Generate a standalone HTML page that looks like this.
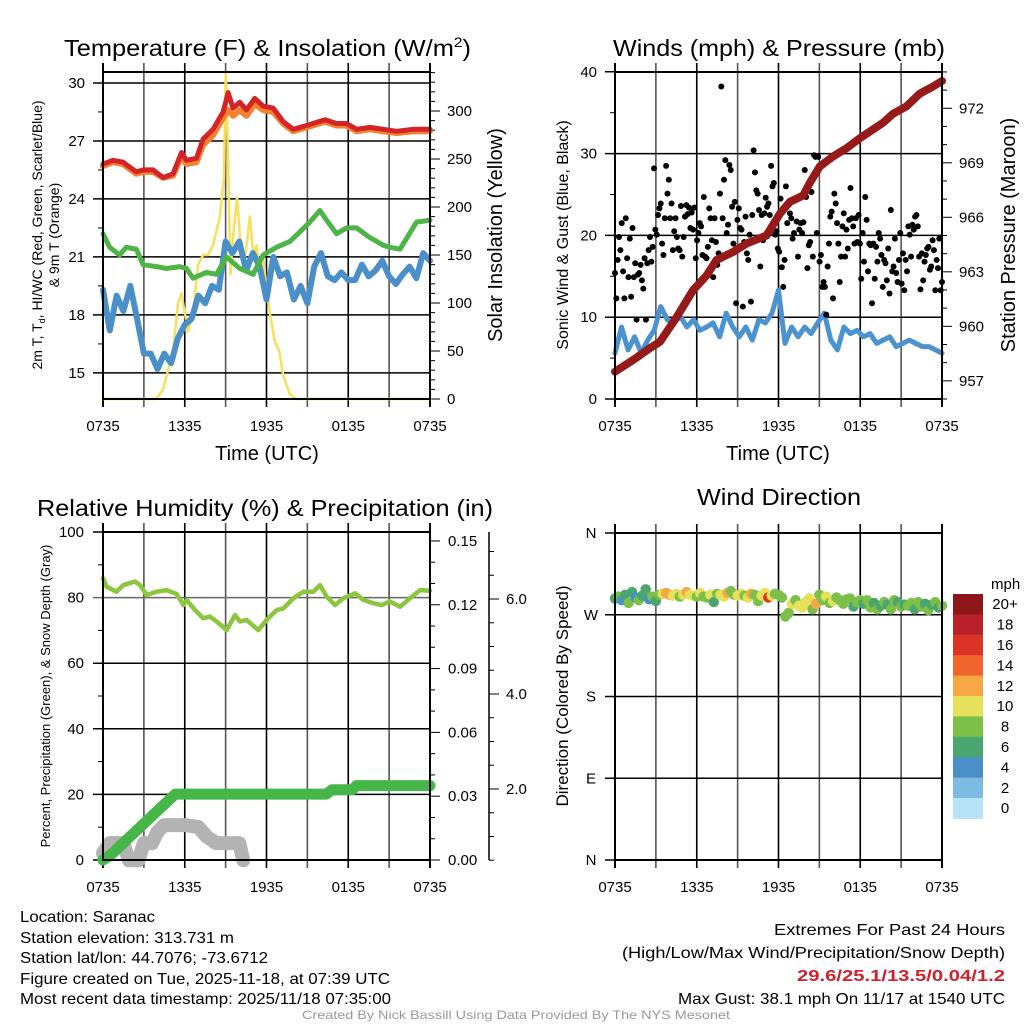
<!DOCTYPE html>
<html><head><meta charset="utf-8"><title>Saranac Meteogram</title>
<style>html,body{margin:0;padding:0;background:#fff}svg{display:block;font-family:"Liberation Sans",Arial,sans-serif}</style></head>
<body>
<svg id="fig" width="1024" height="1024" viewBox="0 0 1024 1024" xmlns="http://www.w3.org/2000/svg">
<rect width="1024" height="1024" fill="#fff"/>
<text x="64" y="56" font-size="23" textLength="407" lengthAdjust="spacingAndGlyphs">Temperature (F) &amp; Insolation (W/m<tspan font-size="14" dy="-9">2</tspan><tspan dy="9">)</tspan></text>
<text x="613" y="56" font-size="23" textLength="332" lengthAdjust="spacingAndGlyphs">Winds (mph) &amp; Pressure (mb)</text>
<text x="37" y="516" font-size="23" textLength="456" lengthAdjust="spacingAndGlyphs">Relative Humidity (%) &amp; Precipitation (in)</text>
<text x="697" y="505" font-size="23" textLength="164" lengthAdjust="spacingAndGlyphs">Wind Direction</text>
<g id="p1"></g>
<g id="p2"></g>
<g id="p3"></g>
<g id="p4"></g>
<text transform="translate(42,235) rotate(-90)" text-anchor="middle" font-size="14">2m T, T<tspan font-size="9" dy="3">d</tspan><tspan dy="-3">, HI/WC (Red, Green, Scarlet/Blue)</tspan></text>
<text transform="translate(59,235) rotate(-90)" text-anchor="middle" font-size="14">&amp; 9m T (Orange)</text>
<text transform="translate(502,235) rotate(-90)" text-anchor="middle" font-size="20">Solar Insolation (Yellow)</text>
<text x="267" y="460" text-anchor="middle" font-size="20">Time (UTC)</text>
<text transform="translate(568,235) rotate(-90)" text-anchor="middle" font-size="16">Sonic Wind &amp; Gust (Blue, Black)</text>
<text transform="translate(1015,235) rotate(-90)" text-anchor="middle" font-size="20">Station Pressure (Maroon)</text>
<text x="778" y="460" text-anchor="middle" font-size="20">Time (UTC)</text>
<text transform="translate(50,696) rotate(-90)" text-anchor="middle" font-size="13">Percent, Precipitation (Green), &amp; Snow Depth (Gray)</text>
<text transform="translate(568,696) rotate(-90)" text-anchor="middle" font-size="17">Direction (Colored By Speed)</text>
<g font-size="16">
<text x="20" y="922" textLength="135" lengthAdjust="spacingAndGlyphs">Location: Saranac</text>
<text x="20" y="943" textLength="214" lengthAdjust="spacingAndGlyphs">Station elevation: 313.731 m</text>
<text x="20" y="963" textLength="248" lengthAdjust="spacingAndGlyphs">Station lat/lon: 44.7076; -73.6712</text>
<text x="20" y="984" textLength="370" lengthAdjust="spacingAndGlyphs">Figure created on Tue, 2025-11-18, at 07:39 UTC</text>
<text x="20" y="1004" textLength="371" lengthAdjust="spacingAndGlyphs">Most recent data timestamp: 2025/11/18 07:35:00</text>
</g>
<g font-size="16">
<text x="774" y="935" textLength="231" lengthAdjust="spacingAndGlyphs">Extremes For Past 24 Hours</text>
<text x="622" y="958" textLength="383" lengthAdjust="spacingAndGlyphs">(High/Low/Max Wind/Precipitation/Snow Depth)</text>
<text x="797" y="981" font-weight="bold" fill="#d0202a" textLength="208" lengthAdjust="spacingAndGlyphs">29.6/25.1/13.5/0.04/1.2</text>
<text x="678" y="1004" textLength="327" lengthAdjust="spacingAndGlyphs">Max Gust: 38.1 mph On 11/17 at 1540 UTC</text>
</g>
<text x="302" y="1019" font-size="12" fill="#999" textLength="428" lengthAdjust="spacingAndGlyphs">Created By Nick Bassill Using Data Provided By The NYS Mesonet</text>
</svg>
<script>
// ---------- data ----------
const timeTickLabels = ['0735','1335','1935','0135','0735'];
const tempTicks = [15,18,21,24,27,30];
const solarTicks = [0,50,100,150,200,250,300];
const windTicks = [0,10,20,30,40];
const pressTicks = [957,960,963,966,969,972];
const rhTicks = [0,20,40,60,80,100];
const precipTicks = [0.00,0.03,0.06,0.09,0.12,0.15];
const snowTicks = [2.0,4.0,6.0];
const dirTicks = ['N','E','S','W','N'];
const speedLabels = ['0','2','4','6','8','10','12','14','16','18','20+'];
const speedColors = ['#b6e3f7','#7ebbe2','#4a8fc8','#4aa56e','#7cc04a','#e6e05a','#f5a843','#f0652e','#dc3328','#b8202a','#8e1519'];

const redHours = [0,0.73,1.47,2.45,2.94,3.67,4.41,5.14,5.76,6.12,6.86,7.35,8.08,8.82,9.18,9.55,10.04,10.53,11.14,11.76,12.49,13.22,13.96,14.94,16.29,17.14,17.88,18.61,19.59,20.57,21.55,22.78,24];
const redTemp = [25.8,26.0,25.9,25.4,25.5,25.5,25.1,25.3,26.4,26.0,26.1,27.1,27.6,28.5,29.5,28.7,29.0,28.6,29.2,28.8,28.7,28.0,27.6,27.8,28.1,27.9,27.9,27.6,27.7,27.6,27.5,27.6,27.6];
const orangeTemp = [25.7,25.9,25.8,25.3,25.4,25.4,25.1,25.2,26.2,25.8,25.9,26.8,27.3,28.2,28.6,28.3,28.6,28.3,28.9,28.6,28.5,27.9,27.5,27.7,28.0,27.8,27.8,27.5,27.6,27.5,27.4,27.5,27.5];
const greenHours = [0,0.49,1.22,1.71,2.45,2.94,3.92,4.65,5.63,6.12,6.61,7.59,8.33,9.06,10.04,11.02,11.76,12.73,13.71,14.45,15.18,15.92,16.41,17.14,17.88,18.61,19.59,20.57,21.06,21.80,23.02,24];
const greenTemp = [22.2,21.5,21.1,21.5,21.4,20.6,20.5,20.4,20.5,20.4,19.9,20.2,20.1,21.0,20.4,20.1,21.1,21.5,21.8,22.3,22.8,23.4,22.9,22.2,22.5,22.5,22.0,21.6,21.5,21.4,22.8,22.9];
const blueTemp = [19.3,17.2,19.0,18.2,19.5,17.8,16.0,16.0,15.2,16.0,15.5,16.8,17.5,17.8,19.0,18.6,19.5,19.3,21.8,21.2,21.8,20.3,21.2,20.5,18.8,21.0,20.0,20.2,18.8,19.5,18.6,20.5,21.2,20.0,19.8,20.2,19.8,19.8,20.6,20.0,20.3,20.8,20.0,19.6,20.1,20.5,19.9,21.2,20.8];
const solarHours = [0,3.92,4.41,5.14,5.51,5.76,6.24,6.61,6.98,7.35,7.71,8.08,8.57,8.87,9.01,9.18,9.36,9.55,9.84,10.09,10.41,10.78,11.02,11.27,11.51,11.76,12.0,12.24,12.61,12.93,13.22,13.71,14.2,24];
const solarVals = [0,0,10,50,100,110,70,90,140,150,150,160,190,230,340,250,130,170,210,160,145,190,150,160,130,150,115,90,60,50,25,5,0,0];

const windVals = [5.6,8.8,6.0,7.6,5.6,7.2,8.4,11.3,9.7,9.3,10.1,8.8,9.7,8.4,8.8,9.3,7.6,10.5,8.8,7.6,8.8,7.2,9.7,9.3,10.5,13.3,6.8,8.8,7.6,8.8,8.0,9.3,10.5,7.2,6.0,8.8,8.0,8.4,7.6,8.0,6.8,7.2,7.6,6.4,6.8,7.2,6.8,6.4,6.4,6.0,5.6];
const gustVals = [15.4,12.3,17.0,19.8,18.2,21.5,15.6,12.3,22.1,17.2,14.9,19.6,12.5,20.9,14.9,16.6,9.7,15.2,15.4,16.4,14.5,13.5,17.2,9.7,16.6,18.2,19.8,16.8,18.6,28.2,20.7,20.1,22.5,23.3,23.9,19.0,17.6,22.1,28.5,25.1,26.8,22.1,23.9,18.2,20.5,22.1,19.8,18.4,18.2,23.6,17.4,19.8,22.3,23.7,22.6,23.4,20.9,22.8,20.7,23.4,17.2,19.4,20.3,21.5,21.1,17.6,24.7,17.4,17.2,18.6,23.3,22.1,19.4,14.9,22.1,19.2,16.4,17.8,25.1,38.2,22.1,26.8,29.2,20.3,21.3,28.6,28.0,23.5,19.0,24.1,11.7,21.9,23.3,20.9,20.7,11.3,19.2,22.3,17.8,17.0,20.1,11.9,22.5,30.4,27.7,25.5,25.1,23.1,16.2,22.5,19.4,22.7,24.6,23.5,23.9,22.5,28.5,26.0,26.4,20.1,20.5,18.4,18.0,24.5,16.1,13.7,17.0,26.0,21.5,23.9,22.7,22.1,19.6,20.3,24.3,21.7,17.4,20.7,21.5,20.3,21.6,28.0,24.7,16.0,18.8,19.2,25.3,17.4,29.8,29.6,20.3,29.6,16.8,17.6,13.7,14.3,13.7,10.3,16.2,19.0,22.3,22.9,12.3,25.1,23.9,21.5,19.0,14.3,17.4,21.1,22.7,17.4,20.7,18.4,21.9,25.8,22.1,21.1,19.0,22.1,19.2,22.5,19.0,14.7,20.3,16.8,24.7,21.9,15.6,19.0,18.8,11.7,19.0,14.7,18.6,16.8,20.3,19.6,17.6,13.7,17.0,16.6,14.5,18.4,12.9,23.1,15.6,16.2,19.6,15.4,14.3,17.0,20.3,14.1,17.8,13.3,17.0,15.6,21.1,20.1,17.4,21.3,20.7,22.3,22.5,21.1,17.4,13.4,17.8,14.5,16.8,17.6,18.4,18.6,15.8,16.2,19.4,18.2,13.3,17.0,16.0,19.6,13.3,14.3];
const pressHours = [0,1.34,2.57,3.3,4.52,5.74,6.72,7.45,8.68,9.65,11.12,12.1,12.83,13.81,14.3,15.03,16.01,16.98,17.96,19.67,20.41,21.38,22.36,23.34,24];
const pressVals = [957.5,958.15,958.8,959.15,960.5,962.0,962.8,963.65,964.1,964.55,965.0,966.2,966.85,967.2,967.9,968.8,969.35,969.8,970.35,971.2,971.7,972.1,972.8,973.2,973.5];

const rhHours = [0,0.27,1.0,1.49,2.35,2.72,3.2,3.94,4.67,5.41,5.9,6.14,6.75,7.36,7.85,8.34,9.08,9.69,10.05,10.54,11.4,12.01,12.75,13.24,13.97,14.7,15.44,15.93,16.42,17.03,17.64,18.5,19.11,19.84,20.45,21.06,21.8,22.53,23.27,24];
const rhVals = [85.9,83.3,81.8,83.8,84.9,83.8,80.8,81.8,82.3,81.1,77.7,79.3,76.2,73.7,74.2,72.7,70.1,74.7,72.7,73.2,70.1,73.2,76.2,76.7,79.8,81.8,81.8,83.8,80.3,77.7,79.8,81.3,79.3,78.3,77.7,78.8,77.2,79.8,82.3,82.1];
const precipHours = [0,0.5,5.3,16.4,16.8,18.3,18.6,24];
const precipVals = [0,0.002,0.031,0.031,0.033,0.033,0.035,0.035];
const snowHours = [0,0.5,1.5,1.9,2.6,3.0,3.6,4.0,4.5,6.0,7.0,7.6,8.3,10.0,10.3];
const snowVals = [0.65,0.86,0.86,0.5,0.5,0.86,0.86,1.1,1.24,1.24,1.2,1.0,0.86,0.86,0.5];

const dirVals = [288,290,286,292,283,295,289,286,291,298,287,290,285, 292,293,294,292,291,293,290,292,295,292,291,290, 294,290,289,292,284,293,292,290,294,296,292,291, 293,291,289,293,292,285,291,294,289,291,293,292, 289,268,272,282,286,280,278,284,288,276,282,292, 286,290,283,285,289,286,282,287,288,279,284,286, 282,286,278,283,276,280,284,281,276,286,284,279, 281,280,283,276,284,279,282,275,281,284,278,280];
const dirSpeeds = [6,7,4,5,8,6,4,7,5,6,3,8,5, 8,10,12,11,9,10,8,10,11,9,10,8, 9,7,8,10,6,8,10,9,12,8,7,9, 10,8,10,11,7,8,10,9,16,10,8,7, 8,8,7,9,8,10,9,9,10,8,11,8, 7,10,8,9,7,8,8,7,8,6,8,7, 6,7,8,6,7,6,8,6,7,8,6,7, 6,8,7,6,7,8,6,7,6,8,6,7];

// ---------- helpers ----------
const NS='http://www.w3.org/2000/svg';
function el(tag,parent){const e=document.createElementNS(NS,tag);parent.appendChild(e);return e;}
function set(e,o){for(const k in o)e.setAttribute(k,o[k]);return e;}
function evenHours(arr){return arr.map((v,i)=>24*i/(arr.length-1));}

function frame(g,P,name){
  for(let h=0;h<=24;h+=3){
    const x=P.x0+(P.x1-P.x0)*h/24;
    const l=el('line',g);
    
    
    set(l,{x1:x,x2:x,y1:P.y0-9,y2:P.y1+8,stroke:(h%6===0?'#000':'#555'),'stroke-width':(h===0||h===24)?2:1.6});
  }
  timeTickLabels.forEach((t,i)=>{
    const x=P.x0+(P.x1-P.x0)*i/4;
    const tx=el('text',g);
    
    
    set(tx,{x:x,y:P.y1+32,'text-anchor':'middle','font-size':15});
    tx.textContent=t;
  });
}
function hline(g,P,y,name,color,ext){
  const l=el('line',g);
  
  
  set(l,{x1:P.x0-(ext||10),x2:P.x1,y1:y,y2:y,stroke:color||'#000','stroke-width':1.5});
}
function label(g,x,y,txt,anchor,name,size){
  const t=el('text',g);
  
  
  set(t,{x:x,y:y+5,'text-anchor':anchor,'font-size':size||15});
  t.textContent=txt;
}
function tick(g,x1,x2,y,name){
  const l=el('line',g);
  
  
  set(l,{x1:x1,x2:x2,y1:y,y2:y,stroke:'#000','stroke-width':1});
}
function series(g,P,hours,vals,ys,color,w,name,op){
  const pts=hours.map((h,i)=>(P.x0+(P.x1-P.x0)*h/24).toFixed(1)+','+ys(vals[i]).toFixed(1)).join(' ');
  const p=el('polyline',g);
  
  
  set(p,{points:pts,fill:'none',stroke:color,'stroke-width':w,'stroke-linejoin':'round','stroke-linecap':'round',opacity:op||1});
}
function border(g,P,name){
  const r=el('rect',g);
  
  
  set(r,{x:P.x0,y:P.y0,width:P.x1-P.x0,height:P.y1-P.y0,fill:'none',stroke:'#000','stroke-width':2});
}

// ---------- panel 1 ----------
(function(){
  const g=document.getElementById('p1');
  const P={x0:103,x1:430,y0:72,y1:399};
  const yT=t=>399-(t-13.65)*19.33;
  const yS=s=>399-s*0.96;
  frame(g,P,'temp');
  tempTicks.forEach(t=>{hline(g,P,yT(t),'temp-grid-line');label(g,85,yT(t),String(t),'end','temp-tick-label');});
  for(let t=13.5;t<=30.5;t+=1.5){if(t>=13.65&&t%3!==0)tick(g,P.x0-5,P.x0,yT(t),'temp-minor-tick');}
  for(let s=0;s<=340;s+=10){tick(g,P.x1,P.x1+(s%50===0?10:5),yS(s),'solar-tick');}
  solarTicks.forEach(s=>label(g,447,yS(s),String(s),'start','solar-tick-label'));
  series(g,P,solarHours,solarVals,yS,'#f7e05a',2.5,'solar-insolation-line');
  series(g,P,evenHours(blueTemp),blueTemp,yT,'#4a8fc8',6,'wind-chill-line');
  series(g,P,greenHours,greenTemp,yT,'#4db548',5,'dewpoint-line');
  series(g,P,redHours,orangeTemp,yT,'#f5822e',6,'temp-9m-line');
  series(g,P,redHours,redTemp,yT,'#d42427',5,'temp-2m-line');
  border(g,P,'temp-plot-frame');
})();

// ---------- panel 2 ----------
(function(){
  const g=document.getElementById('p2');
  const P={x0:615,x1:942,y0:72,y1:399};
  const yW=w=>399-w*8.18;
  const yP=p=>399-(p-956)*18.17;
  frame(g,P,'wind');
  windTicks.forEach(w=>{hline(g,P,yW(w),'wind-grid-line');label(g,597,yW(w),String(w),'end','wind-tick-label');});
  for(let w=5;w<40;w+=10)tick(g,P.x0-5,P.x0,yW(w),'wind-minor-tick');
  for(let p=956;p<=974;p+=1){tick(g,P.x1,P.x1+(p%3===0?10:5),yP(p),'pressure-tick');}
  pressTicks.forEach(p=>label(g,959,yP(p),String(p),'start','pressure-tick-label'));
  series(g,P,evenHours(windVals),windVals,yW,'#4a92d0',5,'sonic-wind-line');
  const gh=evenHours(gustVals);
  gustVals.forEach((v,i)=>{
    const c=el('circle',g);
    
    
    set(c,{cx:P.x0+(P.x1-P.x0)*gh[i]/24,cy:yW(v),r:3,fill:'#000'});
  });
  series(g,P,pressHours,pressVals,yP,'#961a1a',8,'pressure-line');
  border(g,P,'wind-plot-frame');
})();

// ---------- panel 3 ----------
(function(){
  const g=document.getElementById('p3');
  const P={x0:103,x1:430,y0:532,y1:860};
  const yR=r=>860-r*3.28;
  const yPr=p=>860-p*2127;
  const ySn=s=>884-s*47.5;
  frame(g,P,'humidity');
  rhTicks.forEach(r=>{hline(g,P,yR(r),'humidity-grid-line',r===80?'#666':'#000');label(g,84,yR(r),String(r),'end','humidity-tick-label');});
  for(let r=10;r<100;r+=20)tick(g,P.x0-5,P.x0,yR(r),'humidity-minor-tick');
  for(let p=0;p<=0.1505;p+=0.01){tick(g,P.x1,P.x1+(Math.round(p*100)%3===0?10:5),yPr(p),'precip-tick');}
  precipTicks.forEach(p=>label(g,448,yPr(p),p.toFixed(2),'start','precip-tick-label'));
  const ax=el('line',g);
  
  
  set(ax,{x1:489,x2:489,y1:532,y2:860,stroke:'#000','stroke-width':1.5});
  for(let s=0.5;s<=7.4;s+=0.5){tick(g,489,489+(s%2===0?10:5),ySn(s),'snow-tick');}
  snowTicks.forEach(s=>label(g,506,ySn(s),s.toFixed(1),'start','snow-tick-label'));
  series(g,P,rhHours,rhVals,yR,'#8cc63f',4.5,'humidity-line');
  series(g,P,snowHours,snowVals,ySn,'#b3b3b3',14,'snow-depth-line');
  series(g,P,precipHours,precipVals,yPr,'#46b649',11,'precipitation-line');
  border(g,P,'humidity-plot-frame');
})();

// ---------- panel 4 ----------
(function(){
  const g=document.getElementById('p4');
  const P={x0:615,x1:942,y0:533,y1:860};
  const yD=d=>860-d*(327/360);
  frame(g,P,'direction');
  dirTicks.forEach((t,i)=>{const y=yD(i*90);hline(g,P,y,'direction-grid-line');label(g,591,y,t,'middle','direction-tick-label',15);});
  const dh=evenHours(dirVals);
  dirVals.forEach((d,i)=>{
    const c=el('circle',g);
    
    
    const idx=Math.min(10,Math.round(dirSpeeds[i]/2));
    set(c,{cx:P.x0+(P.x1-P.x0)*dh[i]/24,cy:yD(d),r:5.2,fill:speedColors[idx]});
  });
  border(g,P,'direction-plot-frame');
  const cb=el('g',g);
  
  
  const t=el('text',cb);
  
  
  set(t,{x:991,y:589,'font-size':15});
  t.textContent='mph';
  const bh=20.4;
  speedLabels.slice().reverse().forEach((lab,j)=>{
    const k=speedLabels.length-1-j;
    const r=el('rect',cb);
    
    
    set(r,{x:953,y:594+j*bh,width:30,height:bh+0.5,fill:speedColors[k]});
    const tx=el('text',cb);
    
    
    set(tx,{x:1005,y:594+j*bh+bh/2+5,'text-anchor':'middle','font-size':15});
    tx.textContent=lab;
  });
})();
</script>
</body></html>
